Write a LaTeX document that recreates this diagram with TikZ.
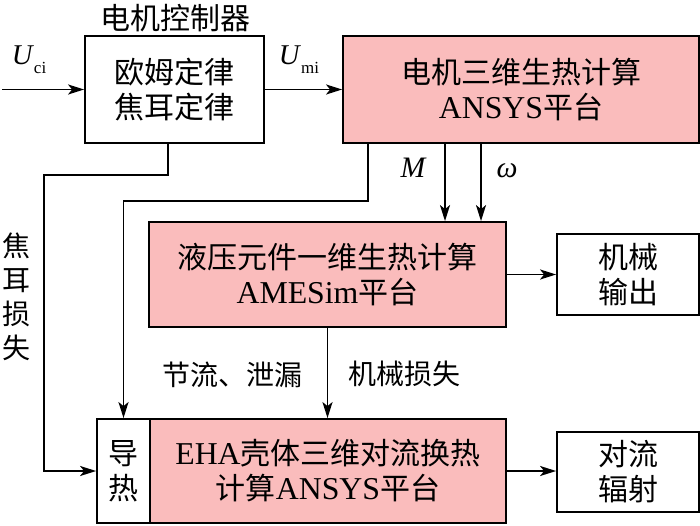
\documentclass[tikz,border=0pt]{standalone}
\usepackage{fontspec}
\setmainfont{Liberation Serif}[Scale=1.06]
\newfontfamily\cjk{Noto Sans CJK SC}
\usetikzlibrary{arrows.meta}
\definecolor{boxpink}{RGB}{250,188,188}
\begin{document}
\begin{tikzpicture}[x=1pt,y=-1pt,
  every node/.style={font=\fontsize{30}{35}\selectfont, inner sep=0pt},
  box/.style={draw, line width=1.8pt, align=center},
  pinkbox/.style={box, fill=boxpink},
  lbl/.style={font=\fontsize{28}{34}\selectfont},
  ln/.style={line width=1.8pt},
  arr/.style={line width=1.8pt, -{Stealth[length=16pt,width=10pt,inset=4pt]}}]
\useasboundingbox (0,0) rectangle (700,526);

% boxes
\node[box, minimum width=179pt, minimum height=107pt] (ctrl) at (174.5,89.5)
  {\cjk 欧姆定律\\\cjk 焦耳定律};
\node[pinkbox, minimum width=356pt, minimum height=107pt] (motor) at (521,89.5)
  {\cjk 电机三维生热计算\\ANSYS{\cjk 平台}};
\node[pinkbox, minimum width=357pt, minimum height=105pt] (hyd) at (327.5,274.5)
  {\cjk 液压元件一维生热计算\\AMESim{\cjk 平台}};
\node[box, minimum width=142pt, minimum height=81pt] (mech) at (628,274.5)
  {\cjk 机械\\\cjk 输出};
\node[box, minimum width=53pt, minimum height=104pt] (dao) at (123.5,471)
  {\cjk 导\\\cjk 热};
\node[pinkbox, minimum width=356pt, minimum height=104pt] (eha) at (328,471)
  {EHA{\cjk 壳体三维对流换热}\\{\cjk 计算}ANSYS{\cjk 平台}};
\node[box, minimum width=142pt, minimum height=80pt] (conv) at (628,472)
  {\cjk 对流\\\cjk 辐射};

% labels
\node (title) at (175,18) {\cjk 电机控制器};
\node[anchor=base] (uci) at (29,65)
  {\fontsize{27}{27}\selectfont\itshape U\/\raisebox{-9pt}{\upshape\fontsize{16}{16}\selectfont ci}};
\node[anchor=base] (umi) at (299,65)
  {\fontsize{27}{27}\selectfont\itshape U\/\raisebox{-9pt}{\upshape\fontsize{16}{16}\selectfont mi}};
\node[anchor=base] (lM) at (413,178) {\fontsize{28}{28}\selectfont\itshape M};
\node[anchor=base] (lw) at (507,178) {\fontsize{28}{28}\selectfont\itshape ω};
\node[lbl, align=center] (joule) at (16,297)
  {\cjk 焦\\\cjk 耳\\\cjk 损\\\cjk 失};
\node[lbl] (leak) at (232,375) {\cjk 节流、泄漏};
\node[lbl] (mloss) at (404,374) {\cjk 机械损失};

% helper coordinates
\coordinate (in) at (2,89.5);
\coordinate (mx) at (445,0);
\coordinate (wx) at (481,0);
\coordinate (r1) at (368,201);
\coordinate (r2) at (168,175);
\coordinate (r3) at (44,175);

% connectors
\draw[arr] (in) -- (ctrl.west);
\draw[arr] (ctrl.east) -- (motor.west);
\draw[arr] (motor.south -| mx) -- (hyd.north -| mx);
\draw[arr] (motor.south -| wx) -- (hyd.north -| wx);
\draw[arr] (motor.south -| r1) -- (r1) -| (dao.north);
\draw[arr] (ctrl.south -| r2) -- (r2) -- (r3) |- (dao.west);
\draw[arr] (hyd.south) -- (hyd.south |- eha.north);
\draw[arr] (hyd.east) -- (mech.west);
\draw[arr] (eha.east) -- (eha.east -| conv.west);
\end{tikzpicture}
\end{document}
